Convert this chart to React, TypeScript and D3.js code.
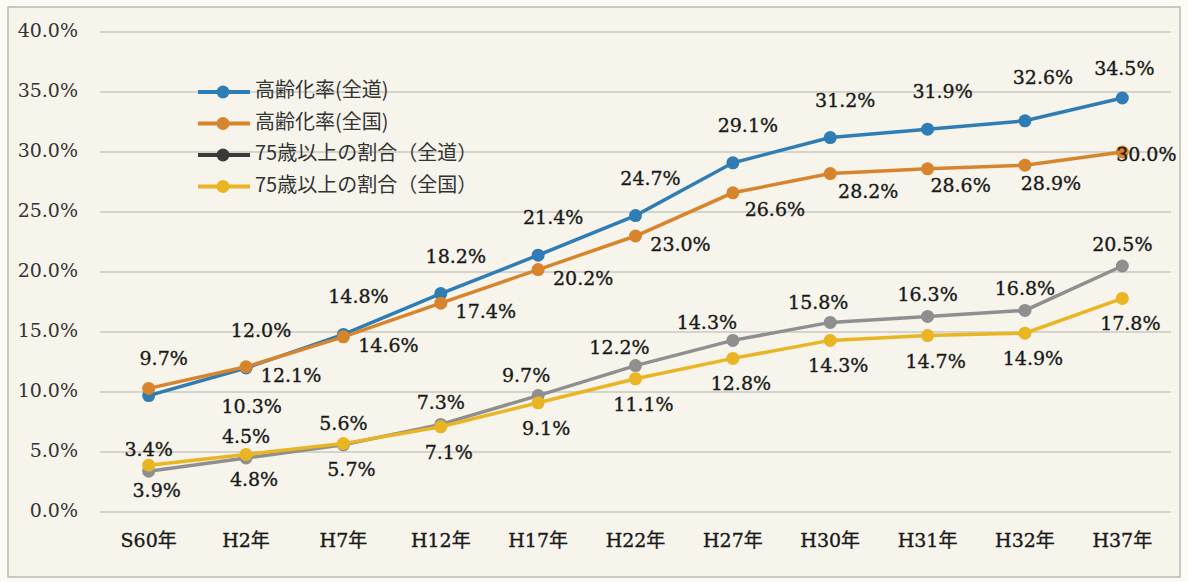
import React, { useEffect, useRef } from 'react'
import { select, scaleLinear, scalePoint, line, range } from 'd3'

// categories (years)
const years = ['S60年', 'H2年', 'H7年', 'H12年', 'H17年', 'H22年', 'H27年', 'H30年', 'H31年', 'H32年', 'H37年']

// series values (%)
const agingHokkaido = [9.7, 12.0, 14.8, 18.2, 21.4, 24.7, 29.1, 31.2, 31.9, 32.6, 34.5]
const agingNational = [10.3, 12.1, 14.6, 17.4, 20.2, 23.0, 26.6, 28.2, 28.6, 28.9, 30.0]
const over75Hokkaido = [3.4, 4.5, 5.6, 7.3, 9.7, 12.2, 14.3, 15.8, 16.3, 16.8, 20.5]
const over75National = [3.9, 4.8, 5.7, 7.1, 9.1, 11.1, 12.8, 14.3, 14.7, 14.9, 17.8]

const yTicks = [0, 5, 10, 15, 20, 25, 30, 35, 40]

const seriesNames = ['高齢化率(全道)', '高齢化率(全国)', '75歳以上の割合（全道）', '75歳以上の割合（全国）']

function App() {
  const ref = useRef<SVGSVGElement>(null)

  useEffect(() => {
    const width = 1188, height = 582
    const svg = select(ref.current)
    svg.selectAll('*').remove()

    const series = [
      { name: seriesNames[0], values: agingHokkaido, color: '#2f7db4', legendColor: '#2f7db4', dx: 15, dy: -36 },
      { name: seriesNames[1], values: agingNational, color: '#d8842c', legendColor: '#d8842c', dx: 45, dy: 10 },
      { name: seriesNames[2], values: over75Hokkaido, color: '#8f8f8f', legendColor: '#3a3a3a', dx: 0, dy: -20 },
      { name: seriesNames[3], values: over75National, color: '#e9b522', legendColor: '#e9b522', dx: 8, dy: 27 },
    ]

    // hand-placed labels in the original, keyed "series-index"
    const nudge: Record<string, [number, number]> = {
      '1-0': [103, 20], '1-6': [42, 18], '1-7': [38, 19], '1-8': [33, 18], '1-9': [26, 20], '1-10': [24, 4],
      '0-9': [18, -42], '0-10': [2, -28],
      '2-4': [-12, -19], '2-5': [-16, -17], '2-6': [-26, -16], '2-7': [-12, -18],
    }

    // background + frame
    svg.append('rect').attr('width', width).attr('height', height).attr('fill', '#fbfaf5')
    svg.append('rect')
      .attr('x', 8).attr('y', 7).attr('width', 1172).attr('height', 570)
      .attr('fill', '#f6f4eb').attr('stroke', '#b9b9b4').attr('stroke-width', 1.5)

    const x = scalePoint<string>().domain(years).range([100, 1171]).padding(0.5)
    const y = scaleLinear().domain([0, 40]).range([512, 32])

    // grid + y labels
    const grid = svg.append('g')
    grid.selectAll('line').data(yTicks).join('line')
      .attr('x1', 100).attr('x2', 1171)
      .attr('y1', d => y(d)).attr('y2', d => y(d))
      .attr('stroke', '#c9c8c2').attr('stroke-width', 1.5)
    grid.selectAll('text').data(yTicks).join('text')
      .attr('x', 78).attr('y', d => y(d))
      .attr('text-anchor', 'end').attr('dominant-baseline', 'middle')
      .attr('font-family', '"DejaVu Serif", serif').attr('font-size', 19)
      .attr('fill', '#333')
      .text(d => d.toFixed(1) + '%')

    // x labels
    svg.append('g').selectAll('text').data(years).join('text')
      .attr('x', d => x(d)!).attr('y', 542)
      .attr('text-anchor', 'middle').attr('dominant-baseline', 'middle')
      .attr('font-family', '"DejaVu Serif", "Noto Sans CJK JP", serif').attr('font-size', 19)
      .attr('fill', '#1a1a1a').attr('stroke', '#1a1a1a').attr('stroke-width', 0.35)
      .text(d => d)

    const path = line<number>()
      .x((_, i) => x(years[i])!)
      .y(d => y(d))

    series.forEach(s => {
      const g = svg.append('g')
      g.append('path')
        .datum(s.values)
        .attr('fill', 'none')
        .attr('stroke', s.color)
        .attr('stroke-width', 3.5)
        .attr('d', path)
      g.selectAll('circle').data(s.values).join('circle')
        .attr('cx', (_, i) => x(years[i])!)
        .attr('cy', d => y(d))
        .attr('r', 6.5)
        .attr('fill', s.color)
    })

    // data labels on top
    series.forEach((s, si) => {
      const off = (i: number) => nudge[`${si}-${i}`] || [s.dx, s.dy]
      svg.append('g').selectAll('text').data(s.values).join('text')
        .attr('x', (_, i) => x(years[i])! + off(i)[0])
        .attr('y', (d, i) => y(d) + off(i)[1])
        .attr('text-anchor', 'middle').attr('dominant-baseline', 'middle')
        .attr('font-family', '"DejaVu Serif", serif').attr('font-size', 19)
        .attr('fill', '#1a1a1a').attr('stroke', '#1a1a1a').attr('stroke-width', 0.35)
        .text(d => d.toFixed(1) + '%')
    })

    // legend
    const legend = svg.append('g').attr('transform', 'translate(198, 92)')
    range(series.length).forEach(i => {
      const s = series[i]
      const row = legend.append('g').attr('transform', `translate(0, ${i * 31.5})`)
      row.append('line').attr('x1', 0).attr('x2', 52).attr('y1', 0).attr('y2', 0)
        .attr('stroke', s.legendColor).attr('stroke-width', 4)
      row.append('circle').attr('cx', 25).attr('cy', 0).attr('r', 6.5).attr('fill', s.legendColor)
      row.append('text').attr('x', 57).attr('y', 0)
        .attr('dominant-baseline', 'middle')
        .attr('font-family', '"Noto Sans CJK JP", sans-serif').attr('font-size', 20)
        .attr('fill', '#333')
        .text(s.name)
    })
  }, [])

  return (
    <svg ref={ref} width={1188} height={582}
      style={{ position: 'absolute', left: 0, top: 0, display: 'block' }} />
  )
}

export default App
